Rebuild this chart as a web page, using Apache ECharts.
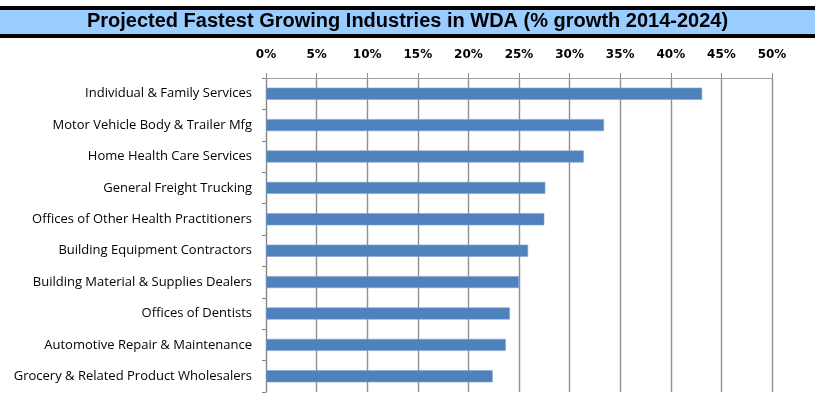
<!DOCTYPE html>
<html>
<head>
<meta charset="utf-8">
<script src="https://cdn.jsdelivr.net/npm/echarts@6/dist/echarts.min.js"></script>
<style>
  html, body { margin: 0; padding: 0; background: #fff; }
  #chart { width: 815px; height: 409px; }
</style>
</head>
<body>
<div id="chart"></div>
<script>
// Industries, top to bottom
const industries = [
  'Individual & Family Services',
  'Motor Vehicle Body & Trailer Mfg',
  'Home Health Care Services',
  'General Freight Trucking',
  'Offices of Other Health Practitioners',
  'Building Equipment Contractors',
  'Building Material & Supplies Dealers',
  'Offices of Dentists',
  'Automotive Repair & Maintenance',
  'Grocery & Related Product Wholesalers'
];
// Projected growth 2014-2024, percent
const growthPct = [43.1, 33.4, 31.4, 27.6, 27.5, 25.9, 25.0, 24.1, 23.7, 22.4];
// Percent axis scale
const axisMin = 0;
const axisMax = 50;
const axisStep = 5;

const chart = echarts.init(document.getElementById('chart'), null, { renderer: 'canvas' });

chart.setOption({
  animation: false,
  backgroundColor: '#ffffff',
  title: {
    text: 'Projected Fastest Growing Industries in WDA (% growth 2014-2024)',
    left: 'center',
    top: 10,
    padding: 0,
    z: 10,
    textStyle: {
      fontFamily: 'Liberation Sans',
      fontWeight: 'bold',
      fontSize: 20,
      lineHeight: 23,
      color: '#000000'
    }
  },
  graphic: [
    { type: 'rect', z: -10, silent: true,
      shape: { x: 0, y: 6, width: 815, height: 32 },
      style: { fill: '#000000' } },
    { type: 'rect', z: -9, silent: true,
      shape: { x: 0, y: 10, width: 815, height: 24 },
      style: { fill: '#99ccff' } }
  ],
  grid: { left: 266, right: 43, top: 78, bottom: 17, containLabel: false },
  xAxis: {
    type: 'value',
    position: 'top',
    min: axisMin,
    max: axisMax,
    interval: axisStep,
    axisLine: { show: true, lineStyle: { color: '#a0a0a0', width: 1 } },
    axisTick: { show: true, length: 5, lineStyle: { color: '#8c8c8c' } },
    splitLine: { show: true, lineStyle: { color: '#8f8f8f', width: 1.4 } },
    axisLabel: {
      margin: 17,
      formatter: '{value}%',
      fontFamily: 'DejaVu Sans',
      fontWeight: 'bold',
      fontSize: 12,
      color: '#000000'
    }
  },
  yAxis: {
    type: 'category',
    inverse: true,
    data: industries,
    axisLine: { show: true, lineStyle: { color: '#868686', width: 1 } },
    axisTick: { show: true, length: 4, lineStyle: { color: '#868686' } },
    splitLine: { show: false },
    axisLabel: {
      margin: 14,
      fontFamily: 'Open Sans',
      fontSize: 13,
      color: '#000000'
    }
  },
  series: [{
    type: 'bar',
    data: growthPct,
    barWidth: 12,
    itemStyle: { color: '#4f81bd', borderColor: '#7ea2cf', borderWidth: 0.6 }
  }]
});
</script>
</body>
</html>
